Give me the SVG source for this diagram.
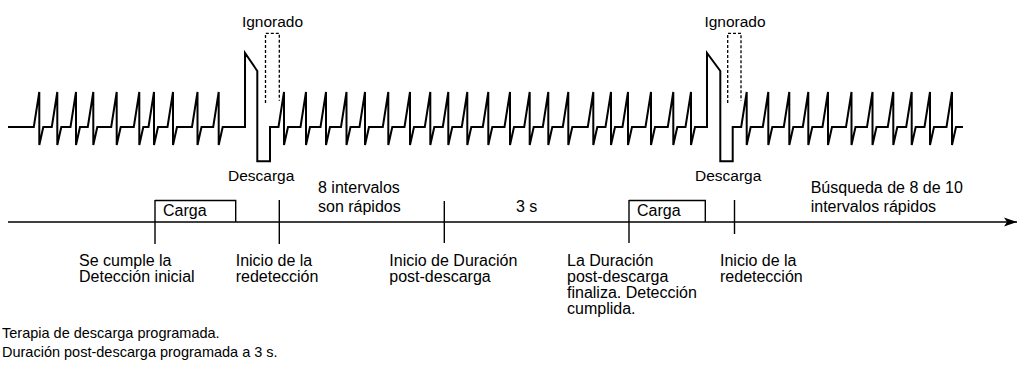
<svg xmlns="http://www.w3.org/2000/svg" width="1019" height="369" viewBox="0 0 1019 369">
<style>
text{font-family:"Liberation Sans",Arial,sans-serif;font-size:16px;fill:#000}
.sm{font-size:15.5px}
.note{font-size:14.5px}
.ecg{fill:none;stroke:#000;stroke-width:2}
.dash{fill:none;stroke:#000;stroke-width:1.3;stroke-dasharray:3 2}
.ln{fill:none;stroke:#000;stroke-width:1.4}
</style>
<defs>
<marker id="ah" markerWidth="14" markerHeight="10" refX="13" refY="5" orient="auto" markerUnits="userSpaceOnUse">
<path d="M0,0.5 L13,5 L0,9.5 L3,5 Z" fill="#000"/>
</marker>
</defs>
<g id="ecg">
<path class="ecg" d="M8,127 L33.8,127 L39.3,92 L39.3,145 L43.3,127 L51.8,127 L57.3,92 L57.3,145 L61.3,127 L70.5,127 L76,92 L76,145 L80,127 L87.8,127 L93.3,92 L93.3,145 L97.3,127 L111.2,127 L116.7,92 L116.7,145 L120.7,127 L133.8,127 L139.3,92 L139.3,145 L143.3,127 L148.5,127 L154,92 L154,145 L158,127 L167.5,127 L173,92 L173,145 L177,127 L192,127 L197.5,92 L197.5,145 L201.5,127 L213.2,127 L218.7,92 L218.7,145 L222.7,127 L245,127 L245,53 L257.3,71 L257.3,161.3 L270,161.3 L270,127 L278.5,127 L284,92 L284,145 L288,127 L300.5,127 L306,92 L306,145 L310,127 L320.5,127 L326,92 L326,145 L330,127 L341,127 L346.5,92 L346.5,145 L350.5,127 L359.5,127 L365,92 L365,145 L369,127 L382.8,127 L388.3,92 L388.3,145 L392.3,127 L404.5,127 L410,92 L410,145 L414,127 L424.8,127 L430.3,92 L430.3,145 L434.3,127 L442.8,127 L448.3,92 L448.3,145 L452.3,127 L461.8,127 L467.3,92 L467.3,145 L471.3,127 L482.8,127 L488.3,92 L488.3,145 L492.3,127 L504.5,127 L510,92 L510,145 L514,127 L524.2,127 L529.7,92 L529.7,145 L533.7,127 L542.8,127 L548.3,92 L548.3,145 L552.3,127 L562.8,127 L568.3,92 L568.3,145 L572.3,127 L587.8,127 L593.3,92 L593.3,145 L597.3,127 L605.5,127 L611,92 L611,145 L615,127 L622.5,127 L628,92 L628,145 L632,127 L645.5,127 L651,92 L651,145 L655,127 L667.8,127 L673.3,92 L673.3,145 L677.3,127 L685.5,127 L691,92 L691,145 L695,127 L707,127 L707,53 L720.3,71 L720.3,161.3 L732.7,161.3 L732.7,127 L741.2,127 L746.7,92 L746.7,145 L750.7,127 L762.8,127 L768.3,92 L768.3,145 L772.3,127 L783.8,127 L789.3,92 L789.3,145 L793.3,127 L802.8,127 L808.3,92 L808.3,145 L812.3,127 L822.5,127 L828,92 L828,145 L832,127 L846,127 L851.5,92 L851.5,145 L855.5,127 L867,127 L872.5,92 L872.5,145 L876.5,127 L887.8,127 L893.3,92 L893.3,145 L897.3,127 L906.2,127 L911.7,92 L911.7,145 L915.7,127 L924.5,127 L930,92 L930,145 L934,127 L946.5,127 L952,92 L952,145 L956,127 L963,127"/>
</g>
<g id="ignorado1">
<path class="dash" d="M265.5,103 V33.3 H279.3 V100.7"/>
<text class="sm" x="272.5" y="27" text-anchor="middle">Ignorado</text>
</g>
<g id="ignorado2">
<path class="dash" d="M727.7,103 V33.3 H741 V100.7"/>
<text class="sm" x="735" y="27" text-anchor="middle">Ignorado</text>
</g>
<g id="descarga1"><text class="sm" x="228" y="181">Descarga</text></g>
<g id="descarga2"><text class="sm" x="695" y="181">Descarga</text></g>
<g id="connectors">
<line class="ln" x1="8" y1="222" x2="1017" y2="222" marker-end="url(#ah)"/>
<line class="ln" x1="155" y1="200" x2="155" y2="244"/>
<line class="ln" x1="279.3" y1="200" x2="279.3" y2="244"/>
<line class="ln" x1="444.3" y1="201" x2="444.3" y2="243"/>
<line class="ln" x1="629" y1="200" x2="629" y2="243"/>
<line class="ln" x1="734.5" y1="200" x2="734.5" y2="234"/>
</g>
<g id="carga1">
<path class="ln" d="M155,200.5 H235.7 V222"/>
<text x="163" y="216">Carga</text>
</g>
<g id="carga2">
<path class="ln" d="M629,200.5 H705.3 V222"/>
<text x="637" y="216">Carga</text>
</g>
<g id="intervalos"><text x="318" y="193">8 intervalos</text><text x="318" y="212">son rápidos</text></g>
<g id="tres-s"><text x="516" y="212">3 s</text></g>
<g id="busqueda"><text x="810.7" y="193">Búsqueda de 8 de 10</text><text x="810.7" y="212">intervalos rápidos</text></g>
<g id="deteccion-inicial"><text x="79" y="266">Se cumple la</text><text x="79" y="282">Detección inicial</text></g>
<g id="redeteccion1"><text x="235.7" y="266">Inicio de la</text><text x="235.7" y="282">redetección</text></g>
<g id="inicio-duracion"><text x="389.3" y="266">Inicio de Duración</text><text x="389.3" y="282">post-descarga</text></g>
<g id="fin-duracion"><text x="567" y="266">La Duración</text><text x="567" y="282">post-descarga</text><text x="567" y="298">finaliza. Detección</text><text x="567" y="314">cumplida.</text></g>
<g id="redeteccion2"><text x="720" y="266">Inicio de la</text><text x="720" y="282">redetección</text></g>
<g id="notas"><text class="note" x="2" y="338">Terapia de descarga programada.</text><text class="note" x="2" y="357">Duración post-descarga programada a 3 s.</text></g>
</svg>
